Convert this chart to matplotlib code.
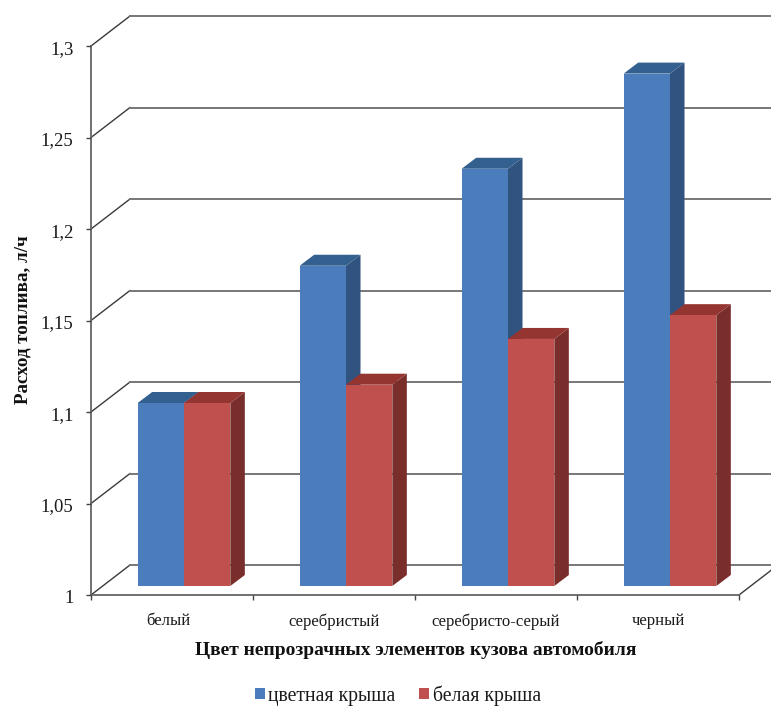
import matplotlib
matplotlib.use('Agg')
import matplotlib.pyplot as plt
from matplotlib.patches import Polygon
from matplotlib.transforms import ScaledTranslation

categories = ['белый', 'серебристый', 'серебристо-серый', 'черный']
colored_roof = [1.10, 1.175, 1.228, 1.28]
white_roof = [1.10, 1.11, 1.135, 1.148]
y_ticks = [1.0, 1.05, 1.1, 1.15, 1.2, 1.25, 1.3]
y_tick_labels = ['1', '1,05', '1,1', '1,15', '1,2', '1,25', '1,3']

W, H = 771, 706
DPI = 100
LEFT, RIGHT, TOP, BOTTOM = 91, 739, 46, 595

# sizes of the fake 3D projection, in pixels
WALL_DX, WALL_DY = 39, 30
BAR_SHIFT_X, BAR_SHIFT_Y = 12, 9
BAR_DX, BAR_DY = 14.5, 11
BAR_WIDTH = 0.286

plt.rcParams['font.family'] = ['Liberation Serif', 'DejaVu Serif']

fig = plt.figure(figsize=(W / DPI, H / DPI), dpi=DPI, facecolor='white')
ax = fig.add_axes([LEFT / W, 1 - BOTTOM / H, (RIGHT - LEFT) / W, (BOTTOM - TOP) / H])
ax.set_xlim(0, len(categories))
ax.set_ylim(1, 1.3)

# pixels to data units
px_x = len(categories) / (RIGHT - LEFT)
px_y = 0.3 / (BOTTOM - TOP)

# back wall gridlines and the diagonals joining them to the axis
for tick in y_ticks:
    ax.plot([0, WALL_DX * px_x], [tick, tick + WALL_DY * px_y], color='#3a3a3a',
            linewidth=1.0, clip_on=False, zorder=1)
    ax.plot([WALL_DX * px_x, (W - LEFT) * px_x], [tick + WALL_DY * px_y] * 2,
            color='#777777', linewidth=1.4, clip_on=False, zorder=1)
ax.plot([len(categories), len(categories) + WALL_DX * px_x], [1, 1 + WALL_DY * px_y],
        color='#3a3a3a', linewidth=1.0, clip_on=False, zorder=1)

shift = ScaledTranslation(BAR_SHIFT_X / DPI, BAR_SHIFT_Y / DPI, fig.dpi_scale_trans)


def draw_series(values, offset, front, top, side, label):
    """Bars with their side and top faces"""
    xs = [i + 0.5 + offset for i in range(len(values))]
    for x, v in zip(xs, values):
        x1 = x + BAR_WIDTH / 2
        x0 = x - BAR_WIDTH / 2
        ddx, ddy = BAR_DX * px_x, BAR_DY * px_y
        ax.add_patch(Polygon([(x1, 1), (x1 + ddx, 1 + ddy), (x1 + ddx, v + ddy), (x1, v)],
                             facecolor=side, edgecolor='none', clip_on=False,
                             transform=ax.transData + shift, zorder=2))
        ax.add_patch(Polygon([(x0, v), (x1, v), (x1 + ddx, v + ddy), (x0 + ddx, v + ddy)],
                             facecolor=top, edgecolor='none', clip_on=False,
                             transform=ax.transData + shift, zorder=2))
    return ax.bar(xs, [v - 1 for v in values], BAR_WIDTH, bottom=1, color=front, label=label,
                  clip_on=False, transform=ax.transData + shift, zorder=2)


blue = draw_series(colored_roof, -BAR_WIDTH / 2, '#4b7dbd', '#33608f', '#30537f', 'цветная крыша')
red = draw_series(white_roof, BAR_WIDTH / 2, '#c0504d', '#943532', '#7a2e2c', 'белая крыша')

ax.set_xlim(0, len(categories))
ax.set_ylim(1, 1.3)

for name in ['top', 'right']:
    ax.spines[name].set_visible(False)
for name in ['left', 'bottom']:
    ax.spines[name].set_color('#666666')
    ax.spines[name].set_linewidth(1.3)
    ax.spines[name].set_zorder(1.5)

ax.set_yticks(y_ticks)
ax.set_yticklabels(y_tick_labels, fontsize=13.5, color='#1a1a1a')
ax.tick_params(axis='y', length=3.6, width=1.0, color='#444444', pad=9)
# value labels sit slightly below their ticks
for label in ax.get_yticklabels():
    label.set_transform(label.get_transform() + ScaledTranslation(0, -1.5 / DPI, fig.dpi_scale_trans))

ax.set_xticks(range(len(categories) + 1))
ax.set_xticklabels([])
ax.tick_params(axis='x', which='major', length=3.6, width=1.0, color='#444444')
ax.set_xticks([0.48, 1.5, 2.5, 3.5], minor=True)
ax.set_xticklabels(categories, minor=True, fontsize=12, color='#1a1a1a')
ax.tick_params(axis='x', which='minor', length=0, pad=13)

fig.text(23 / W, 1 - 320 / H, 'Расход топлива, л/ч', rotation=90, fontsize=13.7,
         fontweight='bold', ha='center', va='center', color='#111111')
fig.text(415.5 / W, 1 - 650 / H, 'Цвет непрозрачных элементов кузова автомобиля', fontsize=14,
         fontweight='bold', ha='center', va='center', color='#111111')

fig.legend(handles=[blue, red], loc='center', bbox_to_anchor=(398 / W, 1 - 695.5 / H), ncol=2,
           frameon=False, fontsize=14.2, handlelength=0.5, handleheight=0.5,
           handletextpad=0.2, columnspacing=1.2, labelcolor='#1a1a1a')

plt.savefig('out.png', dpi=DPI)
plt.close()
